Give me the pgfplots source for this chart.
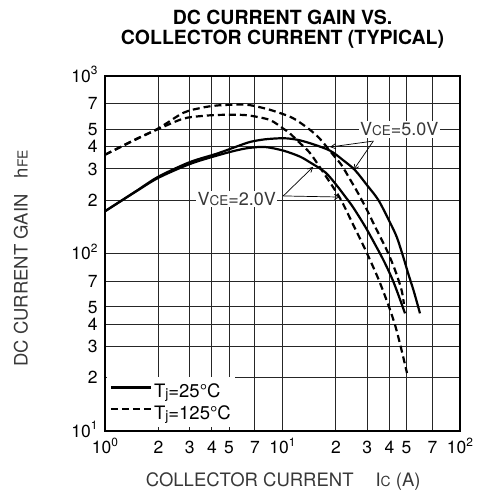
\documentclass[border=0pt]{standalone}
\usepackage{fontspec}
\setmainfont{TeX Gyre Heros}
\usepackage{graphicx}
\usepackage{pgfplots}
\pgfplotsset{compat=1.18}
\usetikzlibrary{arrows.meta}
\newcommand\sm[1]{\scalebox{0.75}{#1}}
\newcommand\spx[1]{\raisebox{0.42em}{\scalebox{0.68}{#1}}}
\definecolor{lbl}{gray}{0.22}
\definecolor{gridc}{gray}{0.15}

\begin{document}
\begin{tikzpicture}
\begin{axis}[
  at={(105bp,68bp)}, anchor=south west,
  scale only axis, width=355bp, height=355bp,
  xmode=log, ymode=log,
  xmin=1, xmax=100, ymin=10, ymax=1000,
  xtick={1,2,3,4,5,7,10,20,30,40,50,70,100},
  xticklabels={10\spx{0},2,3,4,5,7,10\spx{1},2,3,4,5,7,10\spx{2}},
  ytick={10,20,30,40,50,70,100,200,300,400,500,700,1000},
  yticklabels={10\spx{1},2,3,4,5,7,10\spx{2},2,3,4,5,7,10\spx{3}},
  xmajorgrids=true, ymajorgrids=true,
  major grid style={draw=gridc, line width=1bp},
  major tick length=0pt,
  axis line style={draw=black, line width=2.6bp},
  tick label style={font=\fontsize{17.5bp}{20bp}\selectfont},
  xticklabel style={anchor=base, yshift=-23bp},
  yticklabel style={anchor=base east, yshift=-6.2bp, xshift=-4bp},
  xlabel={COLLECTOR CURRENT\hspace{22bp}I\sm{C} (A)},
  ylabel={DC CURRENT GAIN\hspace{16bp}h\sm{FE}},
  label style={font=\fontsize{18.5bp}{21bp}\selectfont, text=lbl},
  xlabel style={at={(0.502,-0.157)}, anchor=base},
  ylabel style={at={(-0.2366,0.486)}, anchor=center},
  legend style={at={(0.006,0.012)}, anchor=south west, draw=none, fill=white,
    inner xsep=2.5bp, inner ysep=4bp, font=\fontsize{18.5bp}{20bp}\selectfont,
    row sep=2.5bp},
  legend cell align=left,
  legend image code/.code={\draw[#1] (0bp,3.5bp) -- (40bp,3.5bp);},
]
% Tj=25C, VCE=5V
\addplot[black, line width=2.2bp, smooth, forget plot] coordinates {
(1,173)(1.5,225)(2,271)(3,327)(4.26,365)(5.5,400)(6.56,425)(8,440)(10.1,446)(12,438)(14.3,418)(18.5,380)(22,335)(25.6,295)(30,242)(34.7,200)(40,152)(44,124)(48,95)(51.1,77)(55,61)(59.5,46)};
% Tj=25C, VCE=2V
\addplot[black, line width=2.2bp, smooth, forget plot] coordinates {
(1,173)(1.5,224)(2,267)(3,319)(4.26,356)(5.5,381)(6.56,394)(8,398)(10.1,380)(12.5,352)(14.3,326)(17.4,287)(20,245)(22.5,210)(25,182)(29.2,142)(33,114)(37,92)(41,74)(44,62)(49,46)};
% Tj=125C, VCE=5V
\addplot[black, line width=2.2bp, dash pattern=on 7bp off 4bp, smooth, forget plot] coordinates {
(1,360)(1.5,442)(2,507)(2.76,620)(3.5,662)(4.26,682)(5.5,690)(6.56,685)(8.5,645)(11,590)(12.5,548)(14.3,497)(16,450)(17.7,400)(19.5,355)(21.5,315)(24,262)(26.7,218)(30,175)(33.2,142)(38.6,105)(43,81)(46.9,62)(48.3,52)};
% Tj=125C, VCE=2V
\addplot[black, line width=2.2bp, dash pattern=on 7bp off 4bp, smooth, forget plot] coordinates {
(1,360)(1.5,440)(2,503)(2.76,575)(3.5,595)(4.26,603)(5.5,605)(6.56,598)(8.5,565)(10.1,505)(11,475)(12.5,420)(14.29,368)(16.91,288)(21.08,205)(24.63,150)(29.16,106)(34.51,72.8)(39.3,51.9)(43.04,39.6)(46.53,29.4)(50.28,21.2)};

\addlegendimage{black, line width=2.2bp}
\addlegendentry{T\raisebox{-0.1ex}{\sm{j}}=25°C}
\addlegendimage{black, line width=2.2bp, dash pattern=on 7bp off 4bp}
\addlegendentry{T\raisebox{-0.1ex}{\sm{j}}=125°C}

\node[fill=white, inner sep=1.5bp, font=\fontsize{18bp}{20bp}\selectfont, text=lbl] at (axis cs:45.5,500) {V\sm{CE}=5.0V};
\node[fill=white, inner sep=1.5bp, font=\fontsize{18bp}{20bp}\selectfont, text=lbl] at (axis cs:5.52,202) {V\sm{CE}=2.0V};
\draw[line width=0.7bp, -{Straight Barb[length=5bp,width=5bp]}] (axis cs:32.5,430) -- (axis cs:18.5,398);
\draw[line width=0.7bp, -{Straight Barb[length=5bp,width=5bp]}] (axis cs:32.5,430) -- (axis cs:25.1,295);
\draw[line width=0.7bp, -{Straight Barb[length=5bp,width=5bp]}] (axis cs:10.1,211) -- (axis cs:14.9,308);
\draw[line width=0.7bp, -{Straight Barb[length=5bp,width=5bp]}] (axis cs:10.1,211) -- (axis cs:21.1,208);
\end{axis}
\node[font=\fontsize{19.5bp}{22bp}\selectfont\bfseries, anchor=base] at (282.5bp,474bp) {DC CURRENT GAIN VS.};
\node[font=\fontsize{19.5bp}{22bp}\selectfont\bfseries, anchor=base] at (282.5bp,454bp) {COLLECTOR CURRENT (TYPICAL)};
\path (0,0) (482bp,499bp);
\end{tikzpicture}
\end{document}
